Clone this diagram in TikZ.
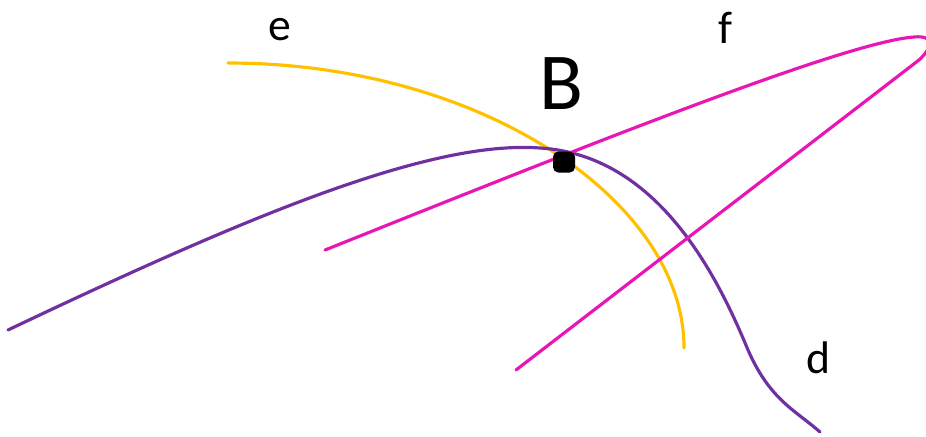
\documentclass[tikz,border=0pt]{standalone}
\usepackage{fontspec}
\setmainfont{Carlito}
\definecolor{oro}{RGB}{255, 192, 0}
\definecolor{violeta}{RGB}{112, 48, 160}
\definecolor{magenta}{RGB}{232, 22, 180}
\usetikzlibrary{calc, positioning}

\begin{document}
\begin{tikzpicture}[
  x=0.02cm, y=-0.02cm,
  curva/.style={line width=1.8pt, line cap=round},
  etiqueta/.style={font=\fontsize{26}{30}\selectfont, inner sep=0pt},
  punto/.style={fill=black, rounded corners=3pt, minimum width=0.44cm, minimum height=0.42cm, inner sep=0pt}
]
  \useasboundingbox (0,0) rectangle (926,436);

  % curvas
  \draw[curva, oro] (228,63) .. controls (480,63) and (684,200) .. (684,348);
  \draw[curva, violeta] (8,330) .. controls (250,215) and (430,140) .. (540,148)
    .. controls (655,155) and (715,270) .. (748,350)
    .. controls (770,400) and (795,410) .. (820,432);
  \draw[curva, magenta] (325,250) .. controls (580,148) and (845,42) .. (914,37)
    .. controls (936,35) and (932,48) .. (919,60) -- (516,370);

  \node[punto] (B) at (564,162) {};

  \node[etiqueta] (e) at (280,30) {e};
  \node[etiqueta] (f) at (725,28) {f};
  \node[etiqueta] (d) at (818,358) {d};
  \node[font=\fontsize{46}{50}\selectfont, inner sep=0pt] (nombre) at (561,84) {B};
\end{tikzpicture}
\end{document}
